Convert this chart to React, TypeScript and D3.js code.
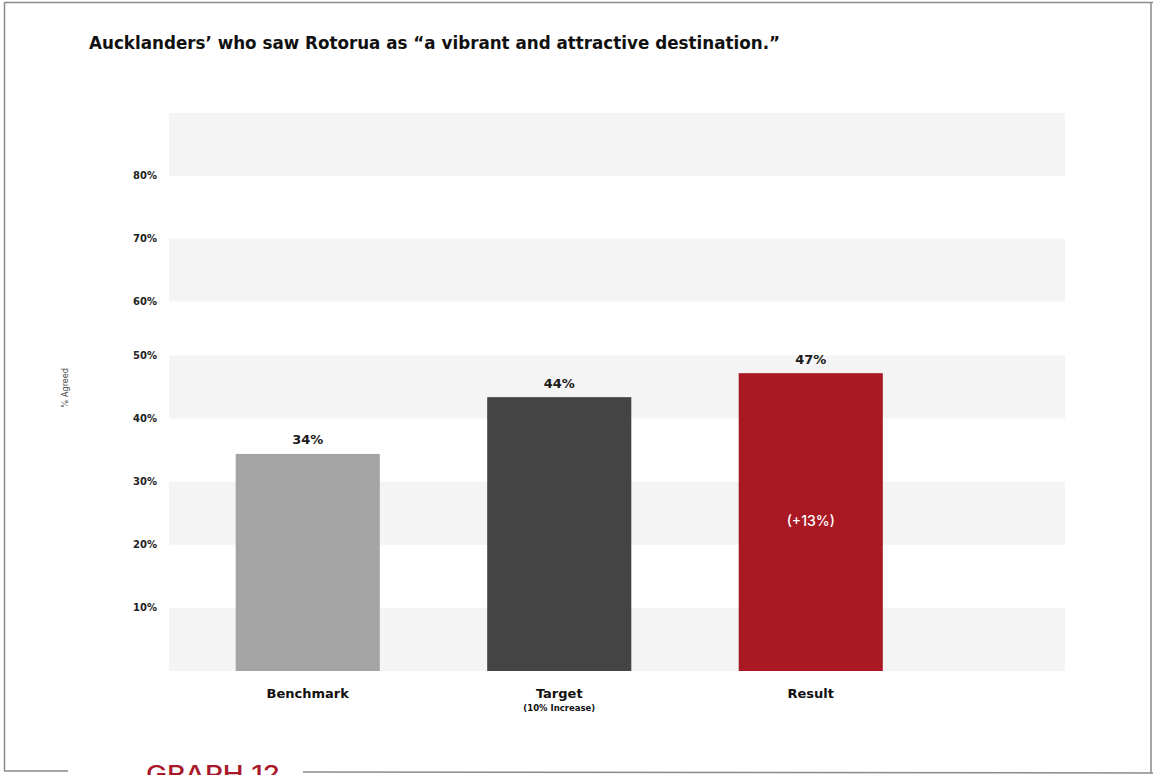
import React from "react";
import * as d3 from "d3";

const categories = ["Benchmark", "Target", "Result"];
const subLabels = ["", "(10% Increase)", ""];
const values = [34.4, 43.4, 47.2];
const valueLabels = ["34%", "44%", "47%"];
const barColors = ["#a4a4a4", "#444444", "#aa1824"];
const innerLabels = ["", "", "(+13%)"];
const yTicks = [10, 20, 30, 40, 50, 60, 70, 80];
const bandStarts = [0, 20, 40, 60, 80];
const bandSize = 10;

const W = 1153;
const H = 775;
const FONT = "Inter, 'Noto Sans', sans-serif";
const BOLD = "'DejaVu Sans', Inter, sans-serif";

export default function App() {
  const x = d3
    .scaleBand<string>()
    .domain(categories)
    .range([182, 936.5])
    .paddingInner(0.427)
    .paddingOuter(0.2135);
  const y = d3
    .scaleLinear()
    .domain([0, 50, 60, 90])
    .range([671, 355.5, 301.5, 113]);
  const plotLeft = 169;
  const plotRight = 1065;

  return (
    <svg
      width={W}
      height={H}
      style={{ position: "absolute", left: 0, top: 0, background: "#fff" }}
      fontFamily={FONT}
    >
      <rect x={0} y={0} width={W} height={H} fill="#fff" />
      {/* frame */}
      <g stroke="#8a8a8a" strokeWidth={1.5} fill="none">
        <line x1={4} y1={2.5} x2={W} y2={2.5} />
        <line x1={4.5} y1={2.5} x2={4.5} y2={771} />
        <line x1={1151} y1={2.5} x2={1151} y2={773} />
        <line x1={4} y1={771} x2={68} y2={771} />
        <line x1={303} y1={772} x2={W} y2={773} />
      </g>
      <text x={146} y={782} fontSize={23} fontWeight={500} fill="#a8182a" textLength={134} lengthAdjust="spacingAndGlyphs">
        GRAPH 12
      </text>

      <text x={89} y={49} fontSize={17} fontWeight={700} fill="#111" fontFamily={BOLD} textLength={691} lengthAdjust="spacingAndGlyphs">
        Aucklanders’ who saw Rotorua as “a vibrant and attractive destination.”
      </text>

      {/* bands */}
      {bandStarts.map((b) => (
        <rect
          key={b}
          x={plotLeft}
          width={plotRight - plotLeft}
          y={y(b + bandSize)}
          height={y(b) - y(b + bandSize)}
          fill="#f4f4f4"
        />
      ))}

      {/* y ticks */}
      {yTicks.map((t) => (
        <text
          key={t}
          x={157}
          y={y(t)}
          textAnchor="end"
          dominantBaseline="middle"
          fontSize={10}
          fontWeight={700}
          fill="#222"
          fontFamily={BOLD}
        >
          {t}%
        </text>
      ))}

      <text
        transform={`translate(68,388) rotate(-90)`}
        textAnchor="middle"
        fontSize={8.5}
        fill="#444"
      >
        % Agreed
      </text>

      {/* bars */}
      {categories.map((c, i) => {
        const bx = x(c) as number;
        const bw = x.bandwidth();
        const cx = bx + bw / 2;
        return (
          <g key={c}>
            <rect x={bx} y={y(values[i])} width={bw} height={y(0) - y(values[i])} fill={barColors[i]} />
            <text
              x={cx}
              y={y(values[i]) - 13}
              textAnchor="middle"
              dominantBaseline="middle"
              fontSize={13}
              fontWeight={700}
              fill="#1a1a1a"
              fontFamily={BOLD}
            >
              {valueLabels[i]}
            </text>
            {innerLabels[i] && (
              <text
                x={cx}
                y={(y(values[i]) + y(0)) / 2}
                textAnchor="middle"
                dominantBaseline="middle"
                fontSize={14}
                fontWeight={500}
                fill="#fff"
              >
                {innerLabels[i]}
              </text>
            )}
            <text
              x={cx}
              y={694}
              textAnchor="middle"
              dominantBaseline="middle"
              fontSize={13}
              fontWeight={700}
              fill="#111"
              fontFamily={BOLD}
            >
              {c}
            </text>
            {subLabels[i] && (
              <text
                x={cx}
                y={708}
                textAnchor="middle"
                dominantBaseline="middle"
                fontSize={8.5}
                fontWeight={700}
                fill="#111"
                fontFamily={BOLD}
              >
                {subLabels[i]}
              </text>
            )}
          </g>
        );
      })}
    </svg>
  );
}
